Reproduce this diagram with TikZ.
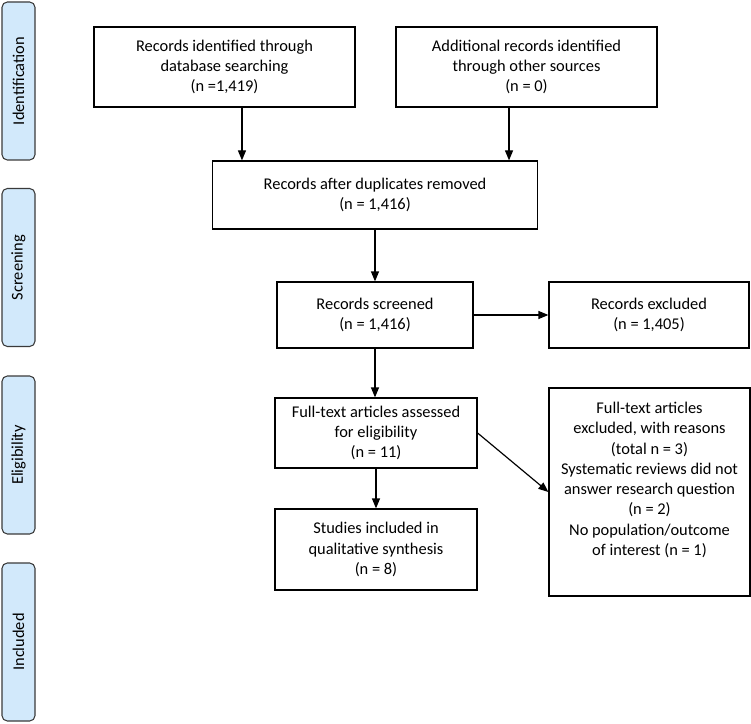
\documentclass[tikz,border=0pt]{standalone}
\usepackage{fontspec}
\setmainfont{Carlito}
\usetikzlibrary{arrows.meta,calc}
\definecolor{stagefill}{HTML}{D2E9FB}
\definecolor{stageline}{HTML}{3A3A3A}
\begin{document}
\begin{tikzpicture}[x=0.75pt,y=-0.75pt,
  box/.style={draw=black,line width=0.9pt,fill=white,align=center,inner sep=2pt,
    font=\fontsize{12.3pt}{15.2pt}\selectfont},
  stage/.style={draw=stageline,line width=0.8pt,fill=stagefill,rounded corners=4pt,
    rotate=90,minimum width=118.5pt,minimum height=24.75pt,inner sep=0pt,
    font=\fontsize{12.3pt}{14pt}\selectfont},
  arr/.style={-{Triangle[length=7.5pt,width=6pt]},line width=0.9pt}]
\useasboundingbox (0,0) rectangle (751,724);
% stage labels
\node[stage] (s1) at (18.5,81) {Identification};
\node[stage] (s2) at (18.5,267.5) {Screening};
\node[stage] (s3) at (18.5,455) {Eligibility};
\node[stage] (s4) at (18.5,642) {Included};
% boxes
\node[box,minimum width=195.75pt,minimum height=60pt] (A) at (224.5,67)
  {Records identified through\\database searching\\(n =1,419)};
\node[box,minimum width=195.75pt,minimum height=60pt] (B) at (526.5,67)
  {Additional records identified\\through other sources\\(n = 0)};
\node[box,minimum width=243.75pt,minimum height=51pt] (dup) at (375,195)
  {Records after duplicates removed\\(n = 1,416)};
\node[box,minimum width=147pt,minimum height=49.5pt] (scr) at (375,315)
  {Records screened\\(n = 1,416)};
\node[box,minimum width=150pt,minimum height=49.5pt] (exc) at (649,315)
  {Records excluded\\(n = 1,405)};
\node[box,minimum width=151.5pt,minimum height=52.5pt] (ft) at (376,433)
  {Full-text articles assessed\\for eligibility\\(n = 11)};
\node[box,minimum width=151.5pt,minimum height=60.75pt] (inc) at (376,549.5)
  {Studies included in\\qualitative synthesis\\(n = 8)};
\node[box,minimum width=150.75pt,minimum height=156pt] (big) at (649.5,492) {};
\node[align=center,anchor=north,inner sep=0pt,font=\fontsize{12.3pt}{15.2pt}\selectfont] (bigtext) at (649.5,402)
  {Full-text articles\\excluded, with reasons\\(total n = 3)\\Systematic reviews did not\\answer research question\\(n = 2)\\No population/outcome\\of interest (n = 1)};
% connectors
\draw[arr] ([xshift=13.1pt]A.south) -- ([xshift=13.1pt]A.south |- dup.north);
\draw[arr] ([xshift=-13.1pt]B.south) -- ([xshift=-13.1pt]B.south |- dup.north);
\draw[arr] (dup.south) -- (dup.south |- scr.north);
\draw[arr] (scr.east) -- (exc.west);
\draw[arr] (scr.south) -- (scr.south |- ft.north);
\draw[arr] (ft.south) -- (inc.north);
\draw[arr] (ft.east) -- (big.west);
\end{tikzpicture}
\end{document}
